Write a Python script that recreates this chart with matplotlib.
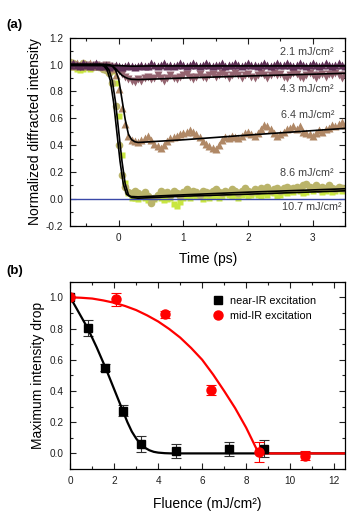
import numpy as np
import matplotlib
matplotlib.use("Agg")
import matplotlib.pyplot as plt
from matplotlib.ticker import MultipleLocator

plt.rcParams['font.family'] = ['Liberation Sans', 'DejaVu Sans']

# ---------------- panel (a): time traces ----------------
# delay time grid (ps), 0.05 ps steps from -0.75 to 3.5
time_ps = np.round(np.arange(-75, 351, 5) / 100.0, 2)

trace_21 = [1.00, 1.01, 1.00, 0.99, 1.01, 1.00, 0.99, 1.00, 1.01, 0.99,
            0.99, 1.00, 0.98, 0.99, 1.00, 0.99, 0.98, 0.99, 1.00, 0.99,
            0.98, 0.99, 1.00, 0.99, 0.99, 1.01, 1.00, 0.99, 1.00, 1.01,
            0.99, 1.00, 0.99, 1.00, 1.01, 1.00, 0.99, 1.00, 1.01, 1.00,
            0.99, 1.00, 1.01, 1.00, 0.99, 1.00, 1.00, 1.01, 0.99, 1.00,
            1.00, 1.01, 1.00, 0.99, 1.00, 1.01, 1.00, 1.00, 0.99, 1.00,
            1.01, 1.00, 0.99, 1.00, 1.01, 1.00, 1.00, 1.01, 1.00, 0.99,
            1.00, 1.01, 1.00, 0.99, 1.00, 1.01, 1.00, 0.99, 1.00, 1.01,
            1.00, 0.99, 1.00, 1.01, 1.00, 0.99]

trace_43 = [0.99, 1.00, 0.99, 0.98, 0.99, 1.00, 0.99, 0.99, 1.00, 0.99,
            0.99, 1.00, 0.99, 0.98, 0.97, 0.95, 0.93, 0.91, 0.89, 0.88,
            0.87, 0.89, 0.88, 0.90, 0.91, 0.89, 0.90, 0.92, 0.90, 0.88,
            0.90, 0.92, 0.90, 0.89, 0.91, 0.92, 0.93, 0.91, 0.89, 0.91,
            0.93, 0.91, 0.90, 0.92, 0.93, 0.91, 0.92, 0.94, 0.92, 0.90,
            0.92, 0.94, 0.92, 0.90, 0.92, 0.93, 0.91, 0.90, 0.92, 0.94,
            0.92, 0.90, 0.92, 0.94, 0.92, 0.93, 0.91, 0.90, 0.92, 0.94,
            0.93, 0.91, 0.90, 0.92, 0.94, 0.92, 0.90, 0.92, 0.93, 0.91,
            0.93, 0.92, 0.94, 0.92, 0.90, 0.92]

trace_64 = [1.00, 0.99, 1.01, 1.00, 0.99, 1.00, 1.01, 0.99, 1.00, 1.00,
            0.99, 1.00, 0.99, 0.97, 0.92, 0.82, 0.68, 0.56, 0.47, 0.44,
            0.43, 0.42, 0.44, 0.45, 0.47, 0.44, 0.41, 0.39, 0.38, 0.40,
            0.43, 0.45, 0.46, 0.47, 0.48, 0.49, 0.50, 0.51, 0.50, 0.48,
            0.46, 0.43, 0.41, 0.39, 0.38, 0.37, 0.40, 0.44, 0.46, 0.45,
            0.47, 0.46, 0.45, 0.47, 0.49, 0.50, 0.48, 0.47, 0.49, 0.52,
            0.55, 0.54, 0.52, 0.49, 0.47, 0.48, 0.50, 0.52, 0.53, 0.54,
            0.52, 0.54, 0.50, 0.49, 0.48, 0.47, 0.49, 0.51, 0.50, 0.52,
            0.53, 0.55, 0.54, 0.56, 0.57, 0.55]

trace_86 = [1.02, 1.01, 1.00, 0.99, 1.01, 1.00, 0.99, 0.98, 0.99, 0.98,
            0.97, 0.96, 0.94, 0.86, 0.69, 0.40, 0.18, 0.09, 0.05, 0.04,
            0.06, 0.04, 0.03, 0.05, 0.02, -0.03, 0.01, 0.03, 0.06, 0.04,
            0.05, 0.03, 0.06, 0.04, 0.02, 0.05, 0.07, 0.04, 0.06, 0.05,
            0.03, 0.06, 0.05, 0.04, 0.06, 0.07, 0.05, 0.04, 0.06, 0.05,
            0.07, 0.06, 0.04, 0.06, 0.08, 0.06, 0.05, 0.07, 0.06, 0.08,
            0.07, 0.09, 0.06, 0.07, 0.08, 0.06, 0.08, 0.09, 0.07, 0.08,
            0.09, 0.07, 0.10, 0.11, 0.09, 0.08, 0.10, 0.07, 0.09, 0.08,
            0.10, 0.08, 0.07, 0.09, 0.08, 0.07]

trace_107 = [1.00, 0.98, 0.97, 0.96, 0.97, 0.98, 0.97, 0.99, 1.00, 0.99,
             0.99, 0.98, 0.97, 0.95, 0.86, 0.62, 0.33, 0.12, 0.04, 0.01,
             0.01, 0.00, 0.02, 0.01, -0.01, 0.01, 0.00, 0.02, 0.01, -0.01,
             0.00, 0.01, -0.04, -0.05, -0.02, 0.01, 0.02, 0.01, 0.03, 0.02,
             0.02, 0.00, 0.03, 0.01, 0.02, 0.03, 0.01, 0.02, 0.04, 0.03,
             0.02, 0.03, 0.01, 0.03, 0.04, 0.02, 0.03, 0.04, 0.03, 0.02,
             0.04, 0.03, 0.05, 0.04, 0.02, 0.03, 0.05, 0.04, 0.06, 0.05,
             0.07, 0.06, 0.04, 0.05, 0.07, 0.06, 0.08, 0.07, 0.05, 0.06,
             0.07, 0.05, 0.06, 0.07, 0.06, 0.08]

# fit curves
fit_21_t = [-0.75, 0.0, 0.2, 0.5, 3.5]
fit_21_v = [0.993, 0.992, 0.988, 0.99, 0.99]
fit_43_t = [-0.75, -0.2, -0.1, -0.05, 0.0, 0.05, 0.1, 0.15, 0.2, 0.3, 1.0, 2.0, 3.5]
fit_43_v = [1.0, 1.0, 0.99, 0.97, 0.945, 0.92, 0.905, 0.895, 0.89, 0.888, 0.90, 0.915, 0.935]
fit_64_t = [-0.75, -0.15, -0.1, -0.05, 0.0, 0.05, 0.1, 0.15, 0.2, 0.25, 0.3, 1.0, 2.0, 3.5]
fit_64_v = [1.0, 1.0, 0.99, 0.96, 0.89, 0.74, 0.59, 0.48, 0.44, 0.425, 0.42, 0.44, 0.475, 0.525]
fit_86_t = [-0.75, -0.28, -0.23, -0.18, -0.13, -0.08, -0.03, 0.02, 0.07, 0.12, 0.17, 0.3, 1.0, 2.0, 3.5]
fit_86_v = [1.0, 1.0, 0.99, 0.96, 0.88, 0.72, 0.5, 0.28, 0.11, 0.035, 0.018, 0.015, 0.03, 0.05, 0.075]
fit_107_t = [-0.75, -0.25, -0.2, -0.15, -0.1, -0.05, 0.0, 0.05, 0.1, 0.15, 0.2, 0.3, 1.0, 2.0, 3.5]
fit_107_v = [1.0, 1.0, 0.99, 0.96, 0.88, 0.72, 0.5, 0.28, 0.11, 0.03, 0.01, 0.005, 0.02, 0.035, 0.06]

fluence_labels = ["2.1 mJ/cm²", "4.3 mJ/cm²", "6.4 mJ/cm²", "8.6 mJ/cm²", "10.7 mJ/cm²"]

# ---------------- panel (b): intensity drop ----------------
nir_fluence = [0.0, 0.8, 1.6, 2.4, 3.2, 4.8, 7.2, 8.8]
nir_drop = [1.0, 0.805, 0.55, 0.273, 0.06, 0.017, 0.027, 0.03]
nir_err = [0.0, 0.05, 0.025, 0.035, 0.05, 0.045, 0.045, 0.055]

mir_fluence = [0.0, 2.1, 4.3, 6.4, 8.6, 10.7]
mir_drop = [1.0, 0.987, 0.89, 0.406, 0.008, -0.015]
mir_err = [0.0, 0.04, 0.02, 0.035, 0.065, 0.03]

nir_fit_f = [0.0, 0.4, 0.8, 1.2, 1.6, 2.0, 2.2, 2.4, 2.6, 2.8, 3.0, 3.2, 3.4,
             3.6, 3.8, 4.0, 4.3, 4.6, 12.5]
nir_fit_v = [1.0, 0.90, 0.80, 0.68, 0.55, 0.41, 0.34, 0.27, 0.20, 0.14, 0.095, 0.06, 0.036,
             0.02, 0.01, 0.005, 0.0015, 0.0, 0.0]
mir_fit_f = [0.0, 0.5, 1.0, 1.5, 2.0, 2.5, 3.0, 3.5, 4.0, 4.5, 5.0, 5.5, 6.0,
             6.5, 7.0, 7.5, 8.0, 8.25, 8.57, 12.5]
mir_fit_v = [1.0, 0.997, 0.992, 0.98, 0.965, 0.944, 0.918, 0.884, 0.845, 0.797, 0.742, 0.675, 0.60,
             0.505, 0.40, 0.29, 0.165, 0.093, 0.0, 0.0]

fig = plt.figure(figsize=(3.64, 5.29), dpi=100)
ax1 = fig.add_axes([0.193, 0.5733, 0.755, 0.3554])
ax2 = fig.add_axes([0.193, 0.1134, 0.755, 0.3541])

ax1.plot(time_ps, trace_107, 's', ms=4.8, color='#c8e640', mec='none')
ax1.plot(time_ps, trace_86, 'o', ms=5.5, color='#bab46a', mec='none')
ax1.plot(time_ps, trace_64, '^', ms=5.8, color='#b08866', mec='none')
ax1.plot(time_ps, trace_43, 'v', ms=5.8, color='#946470', mec='none')
ax1.plot(time_ps, trace_21, '^', ms=5.8, color='#5e2f55', mec='none')
ax1.axhline(0, color='#3a48a8', lw=1)
for ft, fv in [(fit_21_t, fit_21_v), (fit_43_t, fit_43_v), (fit_64_t, fit_64_v),
               (fit_86_t, fit_86_v), (fit_107_t, fit_107_v)]:
    ax1.plot(ft, fv, color='black', lw=1.2)

label_pos = [(3.33, 1.09), (3.33, 0.816), (3.33, 0.625), (3.33, 0.19), (3.44, -0.058)]
for lab, (lx, ly) in zip(fluence_labels, label_pos):
    ax1.text(lx, ly, lab, ha='right', va='center', fontsize=7.8, color='#404040')

ax1.set_xlim(-0.75, 3.5)
ax1.set_ylim(-0.2, 1.2)
ax1.xaxis.set_major_locator(MultipleLocator(1))
ax1.xaxis.set_minor_locator(MultipleLocator(0.5))
ax1.yaxis.set_major_locator(MultipleLocator(0.2))
ax1.yaxis.set_minor_locator(MultipleLocator(0.1))
ax1.yaxis.set_major_formatter(plt.FormatStrFormatter('%.1f'))
ax1.set_xlabel("Time (ps)", fontsize=10, labelpad=7)
ax1.set_ylabel("Normalized diffracted intensity", fontsize=10, labelpad=3)

ax2.errorbar(nir_fluence, nir_drop, yerr=nir_err, fmt='none', ecolor='#303030',
             elinewidth=0.8, capsize=3.5, capthick=0.8)
ax2.errorbar(mir_fluence, mir_drop, yerr=mir_err, fmt='none', ecolor='red',
             elinewidth=0.8, capsize=3.5, capthick=0.8)
ax2.plot(nir_fit_f, nir_fit_v, color='black', lw=1.6)
ax2.plot(mir_fit_f, mir_fit_v, color='red', lw=1.6)
ax2.plot(nir_fluence, nir_drop, 's', ms=6, color='black', label='near-IR excitation')
ax2.plot(mir_fluence, mir_drop, 'o', ms=6.5, color='red', label='mid-IR excitation')
ax2.legend(loc='upper left', bbox_to_anchor=(0.48, 0.975), frameon=False, fontsize=7.8,
           handletextpad=0.5, handlelength=1.2, labelspacing=0.45)

ax2.set_xlim(0, 12.5)
ax2.set_ylim(-0.1, 1.1)
ax2.xaxis.set_major_locator(MultipleLocator(2))
ax2.xaxis.set_minor_locator(MultipleLocator(1))
ax2.yaxis.set_major_locator(MultipleLocator(0.2))
ax2.yaxis.set_minor_locator(MultipleLocator(0.1))
ax2.yaxis.set_major_formatter(plt.FormatStrFormatter('%.1f'))
ax2.set_xlabel("Fluence (mJ/cm²)", fontsize=10, labelpad=8)
ax2.set_ylabel("Maximum intensity drop", fontsize=10, labelpad=3)

for ax in (ax1, ax2):
    ax.tick_params(which='both', direction='in', top=True, right=True, labelsize=7.2,
                   colors='#202020')
    ax.tick_params(which='major', length=4, width=0.8, pad=5)
    ax.tick_params(which='minor', length=2.5, width=0.8)
    for sp in ax.spines.values():
        sp.set_linewidth(0.9)

fig.text(0.017, 0.948, "(a)", fontsize=9.5, fontweight='bold')
fig.text(0.017, 0.482, "(b)", fontsize=9.5, fontweight='bold')

fig.savefig("out.png", dpi=100)
